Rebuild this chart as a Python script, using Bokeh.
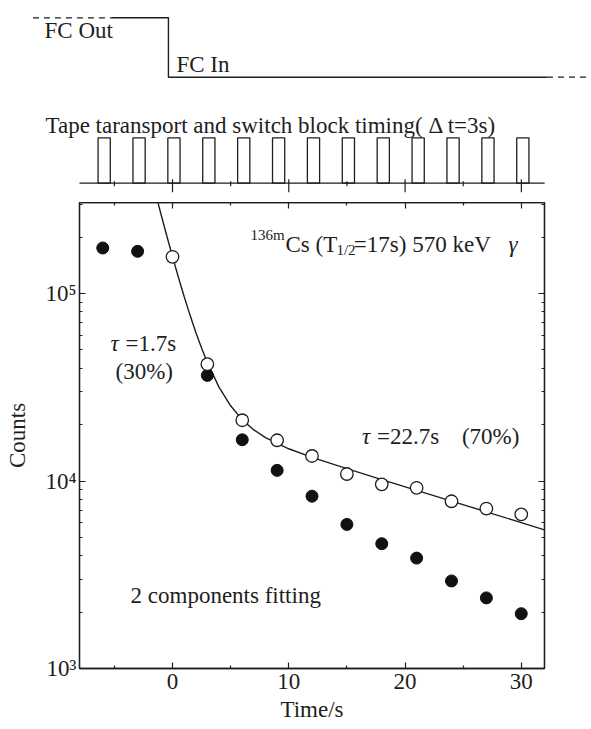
from bokeh.plotting import figure
from bokeh.layouts import column
from bokeh.models import Range1d, LinearAxis, LogAxis, FixedTicker, Label
from bokeh.embed import file_html
from bokeh.resources import INLINE

# ---------------- data ----------------
t_filled = [-6, -3, 3, 6, 9, 12, 15, 18, 21, 24, 27, 30]
counts_filled = [1.75e5, 1.68e5, 3.66e4, 1.66e4, 1.14e4, 8.3e3, 5.87e3, 4.63e3,
                 3.88e3, 2.93e3, 2.38e3, 1.96e3]
t_open = [0, 3, 6, 9, 12, 15, 18, 21, 24, 27, 30]
counts_open = [1.57e5, 4.2e4, 2.11e4, 1.65e4, 1.36e4, 1.09e4, 9.6e3, 9.2e3,
               7.8e3, 7.13e3, 6.64e3]
t_fit = [-1.3, -1.2, -1.0, -0.5, 0, 0.5, 1, 1.5, 2, 2.5, 3, 4, 5, 6, 7, 8, 10,
         12, 15, 18, 21, 24, 27, 30, 32]
counts_fit = [3.15e5, 2.97e5, 2.665e5, 2.04e5, 1.575e5, 1.226e5, 9.65e4, 7.70e4,
              6.22e4, 5.12e4, 4.28e4, 3.17e4, 2.52e4, 2.12e4, 1.873e4, 1.704e4,
              1.486e4, 1.338e4, 1.164e4, 1.018e4, 8.92e3, 7.82e3, 6.85e3,
              6.00e3, 5.49e3]

x_major_ticks = [0, 10, 20, 30]
x_minor_ticks = [-5, 5, 15, 25]
y_major_ticks = [1e3, 1e4, 1e5]
y_tick_labels = ["10\u00b3", "10\u2074", "10\u2075"]
y_minor_ticks = [2e3, 3e3, 4e3, 5e3, 6e3, 7e3, 8e3, 9e3,
                 2e4, 3e4, 4e4, 5e4, 6e4, 7e4, 8e4, 9e4, 2e5, 3e5]

# timing diagram
pulse_t = [-6, -3, 0, 3, 6, 9, 12, 15, 18, 21, 24, 27, 30]   # switch blocks, dt = 3 s
pulse_lead = 0.4
pulse_trail = 0.65
fc_switch_t = -0.35          # FC moved in
fc_dash_left = [-12.0, -5.2]
fc_dash_right = [32.2, 36.1]

# ---------------- style ----------------
FONT = "Liberation Serif"
INK = "#1e1e1e"
FS = "23px"
LIFT = 7

X_LO, X_HI = -8, 32

# ---------------- top timing figure ----------------
top = figure(width=591, height=202, x_range=Range1d(-14.79, 36.03),
             y_range=Range1d(0, 202), toolbar_location=None,
             output_backend="svg", min_border=0)
top.frame_align = False
top.xaxis.visible = False
top.yaxis.visible = False
top.grid.visible = False
top.outline_line_color = None
top.background_fill_color = "white"
top.border_fill_color = "white"

FC_HI, FC_LO = 184.7, 125.3
BASE, PTOP = 19.3, 64.7

# FC line
top.line(fc_dash_left, [FC_HI, FC_HI], line_color=INK, line_width=1.3, line_dash="6 5")
top.line([fc_dash_left[1], fc_switch_t, fc_switch_t, fc_dash_right[0]],
         [FC_HI, FC_HI, FC_LO, FC_LO], line_color=INK, line_width=1.4)
top.line(fc_dash_right, [FC_LO, FC_LO], line_color=INK, line_width=1.3, line_dash="6 5")

# baseline and pulses
top.line([X_LO, X_HI], [BASE, BASE], line_color=INK, line_width=1.3)
top.quad(left=[t - pulse_lead for t in pulse_t], right=[t + pulse_trail for t in pulse_t],
         bottom=BASE, top=PTOP, fill_color=None, line_color=INK, line_width=1.3)
top.segment(x0=x_major_ticks, x1=x_major_ticks, y0=BASE + 4, y1=BASE - 9,
            line_color=INK, line_width=1.2)
top.segment(x0=x_minor_ticks, x1=x_minor_ticks, y0=BASE + 2, y1=BASE - 3,
            line_color=INK, line_width=1.2)

for txt, x, y in [("FC Out", -11.0, 165.3), ("FC In", 0.34, 131.0),
                  ("Tape taransport and switch block timing( \u0394 t=3s)", -10.92, 70.0)]:
    top.add_layout(Label(x=x, y=y, y_offset=LIFT, text=txt, text_font=FONT,
                         text_font_size=FS, text_color=INK,
                         text_baseline="alphabetic"))

# ---------------- main decay figure ----------------
p = figure(width=591, height=527, x_range=Range1d(X_LO, X_HI),
           y_range=Range1d(1e3, 3.06e5), y_axis_type="log",
           toolbar_location=None, output_backend="svg",
           x_axis_label="Time/s", y_axis_label="Counts",
           min_border_left=79, min_border_right=47, min_border_top=0,
           min_border_bottom=61)
p.frame_align = False
p.grid.visible = False
p.background_fill_color = "white"
p.border_fill_color = "white"
p.outline_line_color = INK
p.outline_line_width = 1.3

p.add_layout(LinearAxis(), "above")
p.add_layout(LogAxis(), "right")

for ax in p.xaxis:
    ax.ticker = FixedTicker(ticks=x_major_ticks, minor_ticks=x_minor_ticks)
for ax in p.yaxis:
    ax.ticker = FixedTicker(ticks=y_major_ticks, minor_ticks=y_minor_ticks)
for ax in p.axis:
    ax.axis_line_color = INK
    ax.axis_line_width = 1.3
    ax.major_tick_line_color = INK
    ax.minor_tick_line_color = INK
    ax.major_tick_line_width = 1.2
    ax.minor_tick_line_width = 1.2
    ax.major_tick_in = 6
    ax.major_tick_out = 0
    ax.minor_tick_in = 3
    ax.minor_tick_out = 0
    ax.major_label_text_font = FONT
    ax.major_label_text_font_size = FS
    ax.major_label_text_color = INK
    ax.axis_label_text_font = FONT
    ax.axis_label_text_font_size = FS
    ax.axis_label_text_font_style = "normal"
    ax.axis_label_text_color = INK

p.xaxis[0].major_label_standoff = 3
p.xaxis[0].axis_label_standoff = 17
p.yaxis[0].major_label_standoff = 3
p.yaxis[0].axis_label_standoff = 12
p.yaxis[0].major_label_overrides = dict(zip(y_major_ticks, y_tick_labels))
for ax in (p.above[0], p.right[0]):
    ax.major_label_text_font_size = "1px"
    ax.major_label_text_alpha = 0
    ax.major_label_standoff = 0

# fitted two-component curve and data
p.line(t_fit, counts_fit, line_color=INK, line_width=1.4)
p.scatter(t_filled, counts_filled, size=12, marker="circle",
          fill_color="#111111", line_color="#111111")
p.scatter(t_open, counts_open, size=12.5, marker="circle",
          fill_color="white", line_color=INK, line_width=1.3)

def lab(x, y, text, size=FS, italic=False):
    p.add_layout(Label(x=x, y=y, y_offset=LIFT, text=text, text_font=FONT,
                       text_font_size=size, text_color=INK,
                       text_baseline="alphabetic",
                       text_font_style="italic" if italic else "normal"))

# 136mCs (T1/2=17s) 570 keV gamma
lab(6.7, 1.88e5, "136m", size="15px")
lab(9.72, 1.67e5, "Cs (T")
lab(14.1, 1.57e5, "1/2", size="15px")
lab(15.6, 1.67e5, "=17s) 570 keV")
lab(28.9, 1.67e5, "\u03b3", italic=True)

lab(-5.33, 4.98e4, "\u03c4", italic=True)
lab(-4.05, 4.98e4, "=1.7s")
lab(-4.9, 3.53e4, "(30%)")

lab(16.31, 1.59e4, "\u03c4", italic=True)
lab(17.6, 1.59e4, "=22.7s")
lab(24.9, 1.59e4, "(70%)")

lab(-3.61, 2.26e3, "2 components fitting")

layout = column(top, p, spacing=0)
open("out.html", "w").write(file_html(layout, INLINE))
